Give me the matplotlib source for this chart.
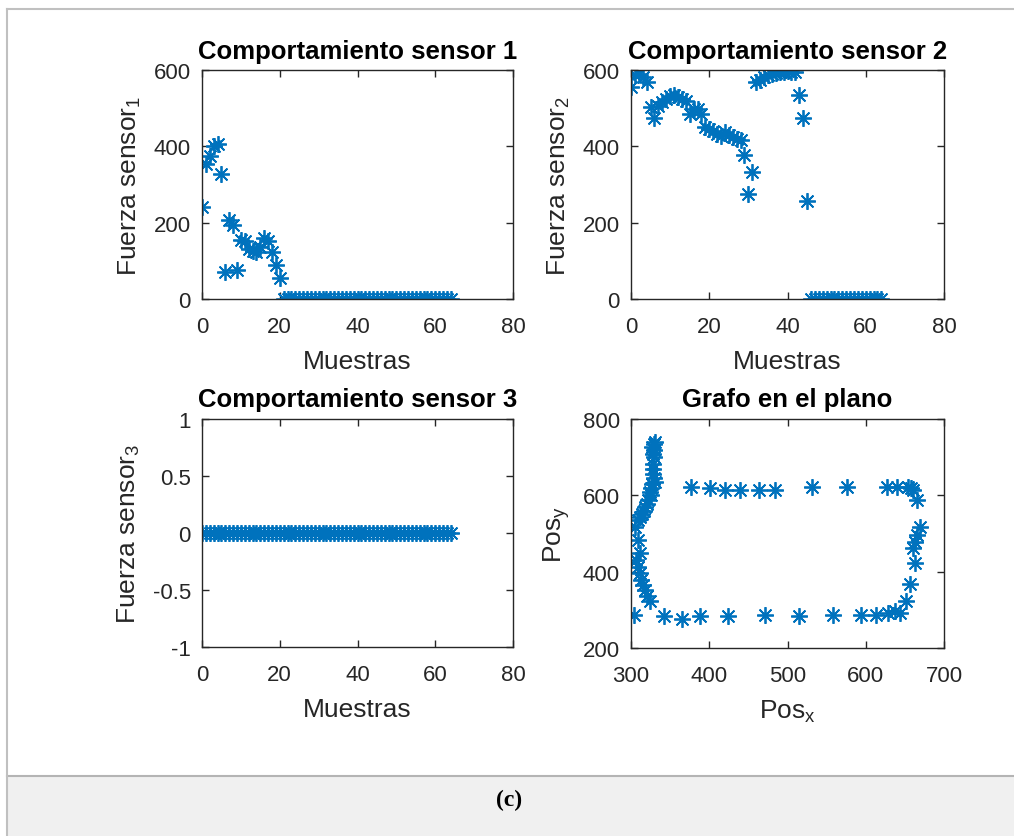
import matplotlib
matplotlib.use("Agg")
import matplotlib.pyplot as plt
from matplotlib.lines import Line2D
from matplotlib.patches import Rectangle

plt.rcParams['font.family'] = ['Liberation Sans', 'DejaVu Sans']
plt.rcParams['mathtext.fontset'] = 'custom'
plt.rcParams['mathtext.rm'] = 'Liberation Sans'

# sensor readings per sample (samples 0..64)
muestras = list(range(65))
sensor1 = [242, 355, 375, 400, 406, 327, 72, 208, 195, 77, 155, 153, 131, 127, 122,
           135, 159, 153, 124, 89, 54] + [0] * 44
sensor2 = [556, 588, 590, 581, 568, 502, 473, 506, 515, 524, 532, 534, 530, 524, 518,
           485, 498, 498, 486, 450, 445, 441, 432, 428, 437, 430, 424, 419, 417, 377,
           275, 332, 569, 575, 582, 587, 590, 593, 595, 596, 597, 596, 595, 534, 473,
           258] + [0] * 19
sensor3 = [0] * 65

# position in the plane
pos_x = [304, 324, 320, 318, 315, 313, 311, 309, 307, 311, 309, 305, 309, 312, 314,
         316, 318, 320, 322, 326, 324, 325, 327, 331, 330, 328, 328, 328, 330, 328,
         329, 327, 331, 329,
         377, 401, 420, 439, 463, 484, 531, 576, 627, 640, 654, 658, 661, 665,
         669, 665, 663, 661, 663, 657, 652,
         644, 637, 629, 613, 594, 558, 515, 471, 424, 388, 365, 342]
pos_y = [287, 322, 335, 352, 365, 378, 396, 413, 430, 448, 483, 517, 535, 543, 552,
         560, 570, 578, 587, 600, 609, 620, 630, 635, 645, 657, 670, 683, 700, 709,
         720, 726, 739, 735,
         623, 619, 613, 615, 615, 615, 622, 622, 623, 623, 623, 620, 613, 589,
         517, 496, 478, 461, 423, 367, 322,
         293, 296, 291, 287, 287, 287, 283, 287, 283, 283, 276, 283]

azul = '#0072BD'
gris = '#262626'
mk = dict(linestyle='none', marker=(8, 2, 0), ms=12, mew=1.3, color=azul)

fig = plt.figure(figsize=(10.14, 8.37), dpi=100)
W, H = 1014, 837


def ejes(l, t, r, b):
    return fig.add_axes([l / W, 1 - b / H, (r - l) / W, (b - t) / H])


def estilo(ax, titulo, xl, yl):
    ax.set_title(titulo, fontsize=18.5, fontweight='bold', pad=9)
    ax.set_xlabel(xl, fontsize=19, color=gris, labelpad=9)
    ax.set_ylabel(yl, fontsize=19, color=gris, labelpad=8)
    ax.tick_params(direction='in', top=True, right=True, length=5, width=1,
                   labelsize=16, colors=gris)
    ax.tick_params(axis='x', pad=12)
    ax.tick_params(axis='y', pad=8)
    for s in ax.spines.values():
        s.set_color(gris)
        s.set_linewidth(1)


ax1 = ejes(202, 71, 513, 300)
ax1.plot(muestras, sensor1, **mk)
ax1.set_xlim(0, 80)
ax1.set_ylim(0, 600)
ax1.set_xticks([0, 20, 40, 60, 80])
ax1.set_yticks([0, 200, 400, 600])
estilo(ax1, 'Comportamiento sensor 1', 'Muestras', r'Fuerza sensor$\mathregular{_1}$')

ax2 = ejes(631, 71, 944, 300)
ax2.plot(muestras, sensor2, **mk)
ax2.set_xlim(0, 80)
ax2.set_ylim(0, 600)
ax2.set_xticks([0, 20, 40, 60, 80])
ax2.set_yticks([0, 200, 400, 600])
estilo(ax2, 'Comportamiento sensor 2', 'Muestras', r'Fuerza sensor$\mathregular{_2}$')

ax3 = ejes(202, 420, 513, 648)
ax3.plot(muestras, sensor3, **mk)
ax3.set_xlim(0, 80)
ax3.set_ylim(-1, 1)
ax3.set_xticks([0, 20, 40, 60, 80])
ax3.set_yticks([-1, -0.5, 0, 0.5, 1])
ax3.set_yticklabels(['-1', '-0.5', '0', '0.5', '1'])
estilo(ax3, 'Comportamiento sensor 3', 'Muestras', r'Fuerza sensor$\mathregular{_3}$')

ax4 = ejes(631, 420, 944, 649)
ax4.plot(pos_x, pos_y, **mk)
ax4.set_xlim(300, 700)
ax4.set_ylim(200, 800)
ax4.set_xticks([300, 400, 500, 600, 700])
ax4.set_yticks([200, 400, 600, 800])
estilo(ax4, 'Grafo en el plano', r'Pos$\mathregular{_x}$', r'Pos$\mathregular{_y}$')

# page frame and caption band
fig.add_artist(Rectangle((7 / W, 0), 1, (H - 777) / H, transform=fig.transFigure,
                         facecolor='#f0f0f0', edgecolor='none'))
fig.add_artist(Line2D([7 / W, 1], [1 - 777 / H, 1 - 777 / H], color='#b4b4b4', lw=1.5))
fig.add_artist(Line2D([7 / W, 1], [1 - 10 / H, 1 - 10 / H], color='#c0c0c0', lw=1.5))
fig.add_artist(Line2D([7 / W, 7 / W], [0, 1 - 10 / H], color='#c0c0c0', lw=1.5))
fig.text(509 / W, 1 - 800 / H, '(c)', ha='center', va='center', fontsize=17,
         fontweight='bold', family='Liberation Serif')

fig.savefig('out.png', dpi=100)
